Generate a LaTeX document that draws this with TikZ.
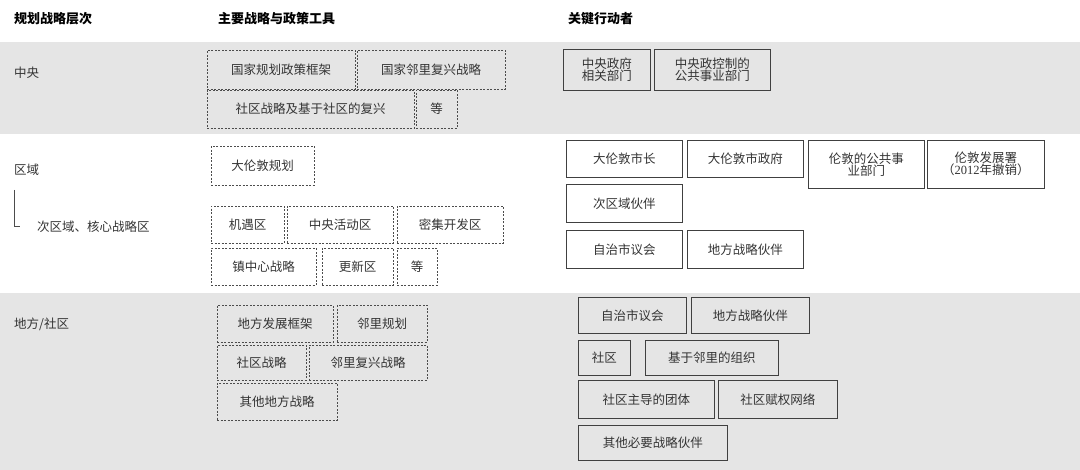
\documentclass[tikz,border=0pt]{standalone}
\usepackage{fontspec}
\setmainfont{Liberation Serif}
\newfontfamily\cjk{Noto Sans CJK SC}
\begin{document}
\begin{tikzpicture}[x=1pt,y=-1pt,
  every node/.style={inner sep=0pt,text=black!80,font=\cjk\fontsize{12.5}{14}\selectfont},
  dbox/.style={draw=black!70,dashed,dash pattern=on 2pt off 1.5pt,anchor=north west,align=center},
  sbox/.style={draw=black!75,line width=0.6pt,anchor=north west,align=center},
  hdr/.style={anchor=west,font=\cjk\bfseries\fontsize{13}{15}\selectfont,text=black},
  lbl/.style={anchor=west}]
\useasboundingbox (0,0) rectangle (1080,470);
\fill[black!10] (0,42) rectangle (1080,134);
\fill[black!10] (0,293) rectangle (1080,470);
\node[hdr] (h1) at (14,19) {规划战略层次};
\node[hdr] (h2) at (218,19) {主要战略与政策工具};
\node[hdr] (h3) at (568,19) {关键行动者};
\node[lbl] (l1) at (14,73) {中央};
\node[lbl] (l2) at (14,170) {区域};
\node[lbl] (l3) at (37,227) {次区域、核心战略区};
\node[lbl] (l4) at (14,324) {地方/社区};
\draw[black!70] (14,190) -- (14,226) -- (20,226);
\newcommand\myd[6]{\node[dbox,minimum width=#3-#2,minimum height=#5-#4] (#1) at (#2,#4) {#6};}
\newcommand\mys[6]{\node[sbox,minimum width=#3-#2,minimum height=#5-#4] (#1) at (#2,#4) {#6};}
\myd{a1}{207}{355}{50}{89}{国家规划政策框架}
\myd{a2}{357}{505}{50}{89}{国家邻里复兴战略}
\myd{a3}{207}{414}{90}{128}{社区战略及基于社区的复兴}
\myd{a4}{416}{457}{90}{128}{等}
\myd{b1}{211}{314}{146}{185}{大伦敦规划}
\myd{b2}{211}{284}{206}{243}{机遇区}
\myd{b3}{287}{393}{206}{243}{中央活动区}
\myd{b4}{397}{503}{206}{243}{密集开发区}
\myd{b5}{211}{316}{248}{285}{镇中心战略}
\myd{b6}{322}{393}{248}{285}{更新区}
\myd{b7}{397}{437}{248}{285}{等}
\myd{c1}{217}{333}{305}{342}{地方发展框架}
\myd{c2}{337}{427}{305}{342}{邻里规划}
\myd{c3}{217}{306}{345}{380}{社区战略}
\myd{c4}{309}{427}{345}{380}{邻里复兴战略}
\myd{c5}{217}{337}{383}{420}{其他地方战略}
\mys{d1}{563}{650}{49}{90}{中央政府\\[-2pt]相关部门}
\mys{d2}{654}{770}{49}{90}{中央政控制的\\[-2pt]公共事业部门}
\mys{e1}{566}{682}{140}{177}{大伦敦市长}
\mys{e2}{687}{803}{140}{177}{大伦敦市政府}
\mys{e3}{808}{924}{140}{188}{伦敦的公共事\\[-2pt]业部门}
\mys{e4}{927}{1044}{140}{188}{伦敦发展署\\[-2pt]（{\rmfamily 2012}年撤销）}
\mys{e5}{566}{682}{184}{222}{次区域伙伴}
\mys{e6}{566}{682}{230}{268}{自治市议会}
\mys{e7}{687}{803}{230}{268}{地方战略伙伴}
\mys{f1}{578}{686}{297}{333}{自治市议会}
\mys{f2}{691}{809}{297}{333}{地方战略伙伴}
\mys{f3}{578}{630}{340}{375}{社区}
\mys{f4}{645}{778}{340}{375}{基于邻里的组织}
\mys{f5}{578}{714}{380}{418}{社区主导的团体}
\mys{f6}{718}{837}{380}{418}{社区赋权网络}
\mys{f7}{578}{727}{425}{460}{其他必要战略伙伴}
\end{tikzpicture}
\end{document}
